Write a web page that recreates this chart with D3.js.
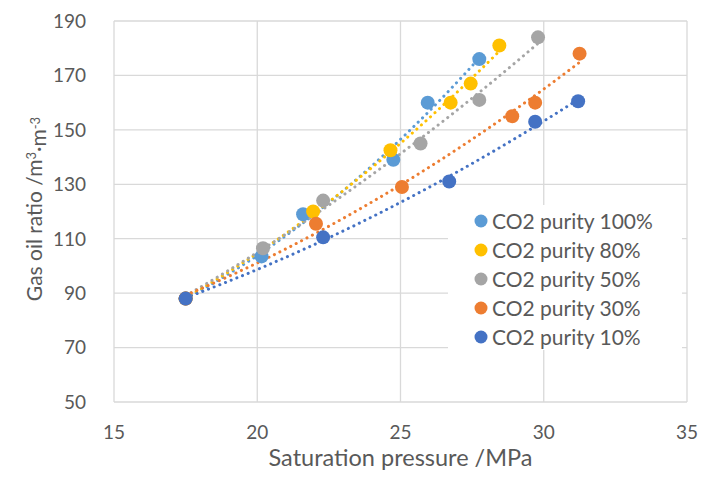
<!DOCTYPE html>
<html>
<head>
  <meta charset="utf-8">
  <script src="https://cdn.jsdelivr.net/npm/d3@7"></script>
  <style>
    body { margin: 0; background: #fff; }
    text { font-family: Lato, "Open Sans", sans-serif; fill: #595959; }
  </style>
</head>
<body>
<script>
  "use strict";

  // series names and colours as in the legend
  var seriesNames = ["CO2 purity 100%", "CO2 purity 80%", "CO2 purity 50%", "CO2 purity 30%", "CO2 purity 10%"];
  var seriesColors = ["#5B9BD5", "#FFC000", "#A5A5A5", "#ED7D31", "#4472C4"];

  // [saturation pressure MPa, gas oil ratio m3/m3]
  var purity100 = [[17.5, 88], [20.15, 103.5], [21.6, 119], [24.75, 139], [25.95, 160], [27.75, 176]];
  var purity80  = [[17.5, 88], [21.95, 120], [24.65, 142.5], [26.75, 160], [27.45, 167], [28.45, 181]];
  var purity50  = [[17.5, 88], [20.2, 106.5], [22.3, 124], [25.7, 145], [27.75, 161], [29.8, 184]];
  var purity30  = [[17.5, 88], [22.05, 115.5], [25.05, 129], [28.9, 155], [29.7, 160], [31.25, 178]];
  var purity10  = [[17.5, 88], [22.3, 110.5], [26.7, 131], [29.7, 153], [31.2, 160.5]];

  var xTicks = [15, 20, 25, 30, 35];
  var yTicks = [50, 70, 90, 110, 130, 150, 170, 190];

  var allSeries = [purity100, purity80, purity50, purity30, purity10];

  var width = 707, height = 482;
  var margin = {top: 21, right: 20, bottom: 80, left: 114};

  var svg = d3.select("body").append("svg")
      .attr("width", width)
      .attr("height", height);

  var x = d3.scaleLinear().domain([15, 35]).range([margin.left, width - margin.right]);
  var y = d3.scaleLinear().domain([50, 190]).range([height - margin.bottom, margin.top]);

  // gridlines
  svg.append("g").selectAll("line").data(yTicks).enter().append("line")
      .attr("x1", x(15)).attr("x2", x(35))
      .attr("y1", d => y(d)).attr("y2", d => y(d))
      .attr("stroke", "#d9d9d9").attr("stroke-width", 1.3);
  svg.append("g").selectAll("line").data(xTicks).enter().append("line")
      .attr("x1", d => x(d)).attr("x2", d => x(d))
      .attr("y1", y(50)).attr("y2", y(190))
      .attr("stroke", "#d9d9d9").attr("stroke-width", 1.3);

  // tick labels
  svg.append("g").selectAll("text").data(yTicks).enter().append("text")
      .attr("x", x(15) - 28).attr("y", d => y(d))
      .attr("dy", "0.36em").attr("text-anchor", "end")
      .style("font-size", "19px")
      .text(d => d);
  svg.append("g").selectAll("text").data(xTicks).enter().append("text")
      .attr("x", d => x(d)).attr("y", y(50) + 37)
      .attr("text-anchor", "middle")
      .style("font-size", "19px")
      .text(d => d);

  // axis titles
  svg.append("text")
      .attr("x", x(25)).attr("y", 466)
      .attr("text-anchor", "middle")
      .style("font-size", "23.5px")
      .text("Saturation pressure /MPa");

  var yTitle = svg.append("text")
      .attr("transform", "translate(42,209) rotate(-90)")
      .attr("text-anchor", "middle")
      .style("font-size", "21px");
  yTitle.append("tspan").text("Gas oil ratio /m");
  yTitle.append("tspan").attr("dy", "-0.45em").style("font-size", "13px").text("3");
  yTitle.append("tspan").attr("dy", "0.45em").text("\u00b7m");
  yTitle.append("tspan").attr("dy", "-0.45em").style("font-size", "13px").text("-3");

  // quadratic least-squares trendline (Excel polynomial order 2)
  function quadFit(pts) {
    var s = [0, 0, 0, 0, 0], t = [0, 0, 0];
    pts.forEach(function(p) {
      var xp = 1;
      for (var k = 0; k < 5; k++) { s[k] += xp; if (k < 3) t[k] += xp * p[1]; xp *= p[0]; }
    });
    var A = [[s[0], s[1], s[2], t[0]], [s[1], s[2], s[3], t[1]], [s[2], s[3], s[4], t[2]]];
    for (var i = 0; i < 3; i++) {
      for (var j = i + 1; j < 3; j++) {
        var f = A[j][i] / A[i][i];
        for (var k2 = i; k2 < 4; k2++) A[j][k2] -= f * A[i][k2];
      }
    }
    var c = [0, 0, 0];
    for (var i2 = 2; i2 >= 0; i2--) {
      var sum = A[i2][3];
      for (var j2 = i2 + 1; j2 < 3; j2++) sum -= A[i2][j2] * c[j2];
      c[i2] = sum / A[i2][i2];
    }
    return function(v) { return c[0] + c[1] * v + c[2] * v * v; };
  }

  var line = d3.line().x(d => x(d[0])).y(d => y(d[1]));

  allSeries.forEach(function(pts, i) {
    var fit = quadFit(pts);
    var ext = d3.extent(pts, d => d[0]);
    var trend = d3.range(0, 41).map(k => {
      var v = ext[0] + (ext[1] - ext[0]) * k / 40;
      return [v, fit(v)];
    });
    svg.append("path")
        .attr("d", line(trend))
        .attr("fill", "none")
        .attr("stroke", seriesColors[i])
        .attr("stroke-width", 3)
        .attr("stroke-linecap", "round")
        .attr("stroke-dasharray", "0.1 6");
  });

  allSeries.forEach(function(pts, i) {
    svg.append("g").selectAll("circle").data(pts).enter().append("circle")
        .attr("cx", d => x(d[0])).attr("cy", d => y(d[1]))
        .attr("r", 7)
        .attr("fill", seriesColors[i]);
  });

  // legend
  var legend = svg.append("g");
  legend.append("rect")
      .attr("x", 448).attr("y", 205).attr("width", 234).attr("height", 145)
      .attr("fill", "#fff");
  var rows = legend.selectAll("g").data(seriesNames).enter().append("g")
      .attr("transform", (d, i) => "translate(481," + (221 + i * 29) + ")");
  rows.append("circle").attr("r", 6.5).attr("fill", (d, i) => seriesColors[i]);
  rows.append("text").attr("x", 11).attr("dy", "0.36em")
      .style("font-size", "21px")
      .text(d => d);
</script>
</body>
</html>
